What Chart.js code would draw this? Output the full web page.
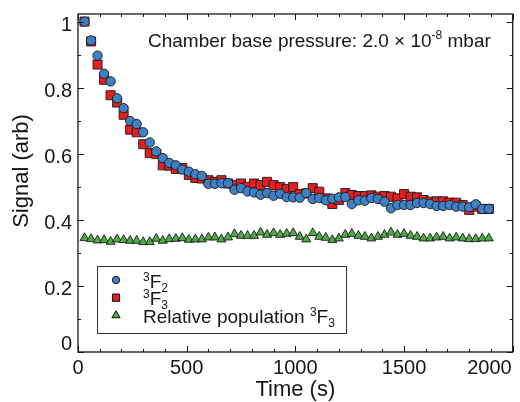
<!DOCTYPE html>
<html>
<head>
<meta charset="utf-8">
<script src="https://cdn.jsdelivr.net/npm/chart.js@4.4.1/dist/chart.umd.min.js"></script>
<style>
  html, body { margin: 0; padding: 0; background: #fff; }
  #wrap { width: 520px; height: 402px; position: relative; }
</style>
</head>
<body>
<div id="wrap"><canvas id="chart"></canvas></div>
<script>
// time after start (s)
const times = [30, 60, 90, 120, 150, 180, 210, 240, 270, 300, 330, 360, 390, 420, 450, 480, 510, 540, 570, 600,
  630, 660, 690, 720, 750, 780, 810, 840, 870, 900, 930, 960, 990, 1020, 1050, 1080, 1110, 1140, 1170, 1200,
  1230, 1260, 1290, 1320, 1350, 1380, 1410, 1440, 1470, 1500, 1530, 1560, 1590, 1620, 1650, 1680, 1710, 1740,
  1770, 1800, 1830, 1860, 1890];

// 3F2 signal
const signalF2 = [1.0, 0.943, 0.897, 0.842, 0.819, 0.768, 0.738, 0.699, 0.690, 0.665, 0.634, 0.607, 0.587, 0.572,
  0.565, 0.552, 0.546, 0.538, 0.533, 0.509, 0.509, 0.511, 0.511, 0.491, 0.496, 0.486, 0.483, 0.476, 0.481, 0.473,
  0.479, 0.469, 0.468, 0.467, 0.481, 0.463, 0.466, 0.459, 0.464, 0.468, 0.469, 0.448, 0.459, 0.458, 0.466, 0.463,
  0.455, 0.435, 0.445, 0.445, 0.445, 0.451, 0.451, 0.448, 0.442, 0.442, 0.445, 0.440, 0.440, 0.438, 0.447, 0.433, 0.433];

// 3F3 signal
const signalF3 = [1.0, 0.940, 0.870, 0.824, 0.777, 0.755, 0.718, 0.673, 0.665, 0.629, 0.602, 0.599, 0.565, 0.564,
  0.554, 0.557, 0.536, 0.527, 0.525, 0.520, 0.515, 0.520, 0.510, 0.505, 0.510, 0.500, 0.510, 0.505, 0.515, 0.505,
  0.499, 0.493, 0.499, 0.478, 0.480, 0.496, 0.485, 0.465, 0.448, 0.460, 0.481, 0.475, 0.472, 0.472, 0.474, 0.470,
  0.472, 0.470, 0.465, 0.478, 0.470, 0.468, 0.460, 0.455, 0.456, 0.456, 0.452, 0.452, 0.445, 0.430, 0.440, 0.433, 0.433];

// relative population of 3F3
const relPopF3 = [0.345, 0.342, 0.338, 0.339, 0.334, 0.341, 0.339, 0.337, 0.337, 0.333, 0.333, 0.343, 0.337, 0.342,
  0.343, 0.345, 0.340, 0.341, 0.341, 0.347, 0.347, 0.341, 0.347, 0.357, 0.352, 0.352, 0.352, 0.362, 0.355, 0.360,
  0.355, 0.358, 0.360, 0.349, 0.341, 0.360, 0.349, 0.346, 0.339, 0.344, 0.355, 0.358, 0.352, 0.349, 0.344, 0.349,
  0.355, 0.362, 0.355, 0.358, 0.352, 0.349, 0.344, 0.344, 0.347, 0.349, 0.344, 0.347, 0.344, 0.342, 0.342, 0.344, 0.344];

const xTicks = [0, 500, 1000, 1500, 2000];
const xMinor = [100, 200, 300, 400, 600, 700, 800, 900, 1100, 1200, 1300, 1400, 1600, 1700, 1800, 1900];
const yTicks = [0, 0.2, 0.4, 0.6, 0.8, 1];
const yTickLabels = ['0', '0.2', '0.4', '0.6', '0.8', '1'];
const yMinor = [0.1, 0.3, 0.5, 0.7, 0.9];

const FONT = '"Liberation Sans", Arial, Helvetica, sans-serif';
const INK = '#161616';
const blueFill = '#3f80c4';
const redFill = '#e3201f';
const greenFill = '#4fab47';

function pts(ys) {
  return times.map((t, i) => ({ x: t, y: ys[i] }));
}

// frame with inward ticks, tick labels, titles, note and legend
const decor = {
  id: 'decor',
  afterDraw(chart) {
    const ctx = chart.ctx;
    const a = chart.chartArea;
    const xs = chart.scales.x, ys = chart.scales.y;
    ctx.save();
    ctx.strokeStyle = INK;
    ctx.lineWidth = 1.3;
    ctx.strokeRect(a.left, a.top, a.right - a.left, a.bottom - a.top);

    ctx.lineWidth = 1;
    ctx.beginPath();
    const tickX = (v, len) => {
      const px = Math.round(xs.getPixelForValue(v)) + 0.5;
      ctx.moveTo(px, a.bottom); ctx.lineTo(px, a.bottom - len);
      ctx.moveTo(px, a.top); ctx.lineTo(px, a.top + len);
    };
    const tickY = (v, len) => {
      const py = Math.round(ys.getPixelForValue(v)) + 0.5;
      ctx.moveTo(a.left, py); ctx.lineTo(a.left + len, py);
      ctx.moveTo(a.right, py); ctx.lineTo(a.right - len, py);
    };
    xTicks.forEach(v => tickX(v, 6));
    xMinor.forEach(v => tickX(v, 3));
    yTicks.forEach(v => tickY(v, 6));
    yMinor.forEach(v => tickY(v, 3));
    ctx.stroke();

    ctx.fillStyle = INK;
    ctx.font = '20px ' + FONT;
    ctx.textBaseline = 'alphabetic';
    // y labels
    ctx.textAlign = 'right';
    yTicks.forEach((v, i) => {
      const py = ys.getPixelForValue(v);
      ctx.fillText(yTickLabels[i], a.left - 6, v === 0 ? py - 2 : py + 9);
    });
    // x labels
    xTicks.forEach((v, i) => {
      const px = xs.getPixelForValue(v);
      const last = i === xTicks.length - 1;
      ctx.textAlign = last ? 'right' : 'center';
      ctx.fillText(String(v), last ? a.right - 1 : px, a.bottom + 22);
    });

    // axis titles
    ctx.font = '22px ' + FONT;
    ctx.textAlign = 'center';
    ctx.fillText('Time (s)', (a.left + a.right) / 2, a.bottom + 44);
    ctx.save();
    ctx.translate(28, 171);
    ctx.rotate(-Math.PI / 2);
    ctx.fillText('Signal (arb)', 0, 0);
    ctx.restore();

    // pressure note
    ctx.textAlign = 'left';
    let x = 148;
    const base = 47;
    const part = (txt, size, dy) => {
      ctx.font = size + 'px ' + FONT;
      ctx.fillText(txt, x, base + dy);
      x += ctx.measureText(txt).width;
    };
    part('Chamber base pressure: 2.0 \u00d7 10', 19, 0);
    part('-8', 12, -8);
    part(' mbar', 19, 0);

    // legend
    const lx = 97, ly = 266, lw = 249, lh = 67;
    ctx.lineWidth = 1;
    ctx.strokeStyle = '#333';
    ctx.strokeRect(lx + 0.5, ly + 0.5, lw, lh);
    const rows = [
      { style: 'circle', r: 3.6, fill: blueFill, label: ['F', '2'] },
      { style: 'rect', r: 5, fill: redFill, label: ['F', '3'] },
      { style: 'triangle', r: 4.6, fill: greenFill, label: ['F', '3', 'Relative population '] }
    ];
    rows.forEach((row, i) => {
      const my = 280 + i * 17.7;
      ctx.fillStyle = row.fill;
      ctx.strokeStyle = '#111';
      ctx.lineWidth = 0.8;
      Chart.helpers.drawPoint(ctx, { pointStyle: row.style, radius: row.r, rotation: 0, borderWidth: 0.8 }, 116, my);
      ctx.fill();
      ctx.stroke();
      ctx.fillStyle = INK;
      x = 143;
      const b = my + 7.5;
      ctx.font = '19px ' + FONT;
      if (row.label[2]) {
        ctx.fillText(row.label[2], x, b);
        x += ctx.measureText(row.label[2]).width;
      }
      ctx.font = '12px ' + FONT;
      ctx.fillText('3', x, b - 7);
      x += ctx.measureText('3').width;
      ctx.font = '19px ' + FONT;
      ctx.fillText(row.label[0], x, b);
      x += ctx.measureText(row.label[0]).width;
      ctx.font = '12px ' + FONT;
      ctx.fillText(row.label[1], x, b + 4);
    });
    ctx.restore();
  }
};

new Chart(document.getElementById('chart'), {
  type: 'scatter',
  data: {
    datasets: [
      { label: '3F2', data: pts(signalF2), pointStyle: 'circle', pointRadius: 4.7,
        backgroundColor: blueFill, borderColor: '#1a1a1a', borderWidth: 0.9 },
      { label: '3F3', data: pts(signalF3), pointStyle: 'rect', pointRadius: 6.4,
        backgroundColor: redFill, borderColor: '#1a1a1a', borderWidth: 0.9 },
      { label: 'Relative population 3F3', data: pts(relPopF3), pointStyle: 'triangle', pointRadius: 5.2,
        backgroundColor: greenFill, borderColor: '#1a1a1a', borderWidth: 0.9 }
    ]
  },
  options: {
    responsive: true,
    maintainAspectRatio: false,
    animation: false,
    events: [],
    layout: { padding: { top: 14, right: 4, left: 0, bottom: 0 } },
    plugins: { legend: { display: false }, tooltip: { enabled: false } },
    scales: {
      x: {
        type: 'linear', min: 0, max: 2000,
        ticks: { display: false }, grid: { display: false }, border: { display: false },
        afterFit(s) { s.height = 50; s.paddingLeft = 0; s.paddingRight = 0; }
      },
      y: {
        min: 0, max: 1.023,
        ticks: { display: false }, grid: { display: false }, border: { display: false },
        afterFit(s) { s.width = 78; s.paddingTop = 0; s.paddingBottom = 0; }
      }
    }
  },
  plugins: [decor]
});
</script>
</body>
</html>
